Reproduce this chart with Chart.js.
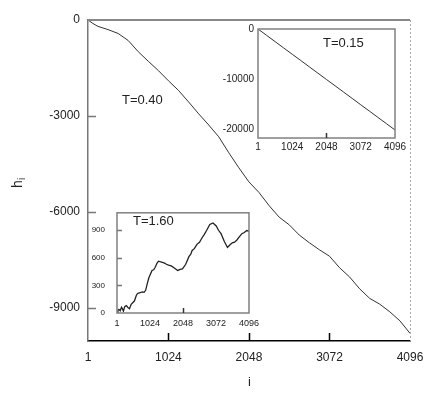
<!DOCTYPE html>
<html>
<head>
<meta charset="utf-8">
<script src="https://cdn.jsdelivr.net/npm/chart.js@4/dist/chart.umd.min.js"></script>
<style>
  html, body { margin: 0; padding: 0; background: #fff; }
  #wrap { position: relative; width: 436px; height: 399px; }
  #wrap canvas { position: absolute; }
</style>
</head>
<body>
<div id="wrap">
  <canvas id="mainChart" width="436" height="399" style="left:0;top:0"></canvas>
  <canvas id="topInset" width="205" height="140" style="left:205px;top:18px"></canvas>
  <canvas id="botInset" width="176" height="134" style="left:88px;top:196px"></canvas>
</div>
<script>
// main panel, T=0.40
const mainI = [1, 64, 128, 192, 256, 384, 512, 640, 768, 896, 1024, 1152, 1280, 1408, 1536, 1664, 1792, 1920, 2048,
  2176, 2304, 2432, 2560, 2688, 2816, 2944, 3072, 3200, 3328, 3456, 3584, 3712, 3840, 3968, 4096];
const mainH = [0, -110, -200, -250, -300, -420, -640, -990, -1290, -1580, -1900, -2200, -2560, -2930, -3280, -3650, -4150, -4620, -5060,
  -5390, -5800, -6160, -6400, -6720, -6960, -7180, -7380, -7740, -8030, -8400, -8700, -8880, -9120, -9400, -9790];
const mainXTicks = [1, 1024, 2048, 3072, 4096];
const mainYTicks = [0, -3000, -6000, -9000];

// top-right inset, T=0.15
const topI = [1, 256, 512, 768, 1024, 1280, 1536, 1792, 2048, 2304, 2560, 2816, 3072, 3328, 3584, 3840, 4096];
const topH = [0, -1260, -2520, -3790, -5050, -6300, -7570, -8830, -10100, -11350, -12620, -13880, -15150, -16400, -17670, -18930, -20200];
const topYTicks = [0, -10000, -20000];

// bottom-left inset, T=1.60
const botI = [1, 30, 60, 100, 141, 170, 200, 240, 290, 340, 390, 440, 540, 600, 638, 700, 790, 840, 890, 940, 987, 1087, 1140, 1187,
  1240, 1286, 1386, 1460, 1535, 1600, 1684, 1780, 1884, 1960, 2033, 2133, 2232, 2290, 2332, 2400, 2481, 2560, 2631, 2700, 2780,
  2880, 2980, 3080, 3150, 3229, 3328, 3428, 3500, 3578, 3650, 3727, 3800, 3876, 3950, 4026, 4096];
const botH = [0, 30, 40, 25, 63, 45, 20, 70, 80, 60, 47, 95, 130, 190, 213, 220, 230, 225, 247, 320, 380, 463, 470, 497,
  540, 563, 553, 545, 530, 520, 513, 490, 463, 475, 480, 530, 613, 640, 680, 700, 747, 770, 813, 850, 897,
  963, 980, 947, 900, 863, 780, 713, 740, 763, 770, 797, 830, 863, 875, 897, 890];
const botYTicks = [0, 300, 600, 900];

const FONT = 'Liberation Sans, Arial, sans-serif';

function pts(xs, ys) {
  return xs.map((x, k) => ({ x: x, y: ys[k] }));
}

function setTicks(vals) {
  return scale => { scale.ticks = vals.map(v => ({ value: v })); };
}

const plain = v => String(v);

// little tick marks pointing into the plot
function inwardTicks(chart, xs, ys, len, xColor, yColor) {
  const ctx = chart.ctx, a = chart.chartArea;
  const sx = chart.scales.x, sy = chart.scales.y;
  ctx.save();
  ctx.lineWidth = 1.5;
  ctx.strokeStyle = xColor;
  xs.forEach(v => {
    const px = Math.round(sx.getPixelForValue(v)) + 0.5;
    ctx.beginPath(); ctx.moveTo(px, a.bottom); ctx.lineTo(px, a.bottom - len); ctx.stroke();
  });
  ctx.strokeStyle = yColor;
  ys.forEach(v => {
    const py = Math.round(sy.getPixelForValue(v)) + 0.5;
    ctx.beginPath(); ctx.moveTo(a.left, py); ctx.lineTo(a.left + len, py); ctx.stroke();
  });
  ctx.restore();
}

function text(ctx, str, x, y, size) {
  ctx.save();
  ctx.fillStyle = '#222';
  ctx.font = size + 'px ' + FONT;
  ctx.textBaseline = 'middle';
  ctx.fillText(str, x, y);
  ctx.restore();
}

const mainDeco = {
  id: 'mainDeco',
  afterDraw(chart) {
    const ctx = chart.ctx, a = chart.chartArea;
    ctx.save();
    // top frame line
    ctx.strokeStyle = '#888';
    ctx.lineWidth = 2;
    ctx.beginPath(); ctx.moveTo(a.left, a.top); ctx.lineTo(a.right, a.top); ctx.stroke();
    // dotted right edge
    ctx.strokeStyle = '#aaa';
    ctx.lineWidth = 1;
    ctx.setLineDash([2, 2]);
    ctx.beginPath(); ctx.moveTo(a.right + 0.5, a.top); ctx.lineTo(a.right + 0.5, a.bottom); ctx.stroke();
    ctx.restore();

    inwardTicks(chart, [1024, 2048, 3072], [-3000, -6000, -9000], 8, '#000', '#777');

    text(ctx, 'T=0.40', 122, 100, 13);
    text(ctx, 'i', 248, 382, 13);

    // y title h_i, rotated
    ctx.save();
    ctx.translate(22, 182);
    ctx.rotate(-Math.PI / 2);
    ctx.fillStyle = '#222';
    ctx.textBaseline = 'alphabetic';
    ctx.font = '14px ' + FONT;
    ctx.fillText('h', -6, 0);
    ctx.font = '10px ' + FONT;
    ctx.fillText('i', 2, 3);
    ctx.restore();
  }
};

function boxPlugin(label, lx, ly, xt, yt) {
  return {
    id: 'box',
    afterDraw(chart) {
      const ctx = chart.ctx, a = chart.chartArea;
      ctx.save();
      ctx.strokeStyle = '#808080';
      ctx.lineWidth = 1.5;
      ctx.strokeRect(a.left, a.top, a.right - a.left, a.bottom - a.top);
      ctx.restore();
      inwardTicks(chart, xt, yt, 5, '#333', '#777');
      text(ctx, label, lx, ly, 13);
    }
  };
}

const lineDs = (data, w, color) => ({
  data: data,
  borderColor: color,
  borderWidth: w,
  pointRadius: 0,
  tension: 0,
  fill: false
});

const axisFont = size => ({ family: FONT, size: size });

new Chart(document.getElementById('mainChart'), {
  type: 'line',
  data: { datasets: [lineDs(pts(mainI, mainH), 1, '#333')] },
  options: {
    responsive: false,
    animation: false,
    layout: { padding: { top: 20, right: 26, left: 0, bottom: 0 } },
    plugins: { legend: { display: false }, tooltip: { enabled: false } },
    scales: {
      x: {
        type: 'linear', min: 1, max: 4096,
        afterBuildTicks: setTicks(mainXTicks),
        afterFit: s => { s.height = 58; },
        grid: { display: false, drawTicks: false },
        border: { color: '#000', width: 1.5 },
        ticks: { padding: 9, color: '#222', font: axisFont(12), maxRotation: 0, autoSkip: false, callback: plain }
      },
      y: {
        type: 'linear', min: -10030, max: 0,
        afterBuildTicks: setTicks(mainYTicks),
        afterFit: s => { s.width = 88; },
        grid: { display: false, drawTicks: false },
        border: { color: '#777', width: 1.5 },
        ticks: { padding: 8, color: '#222', font: axisFont(12), autoSkip: false, callback: plain }
      }
    }
  },
  plugins: [mainDeco]
});

new Chart(document.getElementById('topInset'), {
  type: 'line',
  data: { datasets: [lineDs(pts(topI, topH), 1, '#333')] },
  options: {
    responsive: false,
    animation: false,
    layout: { padding: { top: 11, right: 15, left: 0, bottom: 0 } },
    plugins: { legend: { display: false }, tooltip: { enabled: false } },
    scales: {
      x: {
        type: 'linear', min: 1, max: 4096,
        afterBuildTicks: setTicks(mainXTicks),
        afterFit: s => { s.height = 20; },
        grid: { display: false, drawTicks: false },
        border: { display: false },
        ticks: { padding: 3, color: '#222', font: axisFont(10), maxRotation: 0, autoSkip: false, callback: plain }
      },
      y: {
        type: 'linear', min: -21800, max: 0,
        afterBuildTicks: setTicks(topYTicks),
        afterFit: s => { s.width = 53; },
        grid: { display: false, drawTicks: false },
        border: { display: false },
        ticks: { padding: 4, color: '#222', font: axisFont(10), autoSkip: false, callback: plain }
      }
    }
  },
  plugins: [boxPlugin('T=0.15', 118, 25, [2048], [])]
});

new Chart(document.getElementById('botInset'), {
  type: 'line',
  data: { datasets: [lineDs(pts(botI, botH), 1.3, '#222')] },
  options: {
    responsive: false,
    animation: false,
    layout: { padding: { top: 8, right: 10, left: 0, bottom: 0 } },
    plugins: { legend: { display: false }, tooltip: { enabled: false } },
    scales: {
      x: {
        type: 'linear', min: 1, max: 4096,
        afterBuildTicks: setTicks(mainXTicks),
        afterFit: s => { s.height = 17; },
        grid: { display: false, drawTicks: false },
        border: { display: false },
        ticks: { padding: 5, color: '#222', font: axisFont(9), maxRotation: 0, autoSkip: false, callback: plain }
      },
      y: {
        type: 'linear', min: 0, max: 1090,
        afterBuildTicks: setTicks(botYTicks),
        afterFit: s => { s.width = 29; },
        grid: { display: false, drawTicks: false },
        border: { display: false },
        ticks: { padding: 12, color: '#222', font: axisFont(8), autoSkip: false, callback: plain }
      }
    }
  },
  plugins: [boxPlugin('T=1.60', 45, 25, [2048], [300, 600, 900])]
});
</script>
</body>
</html>
